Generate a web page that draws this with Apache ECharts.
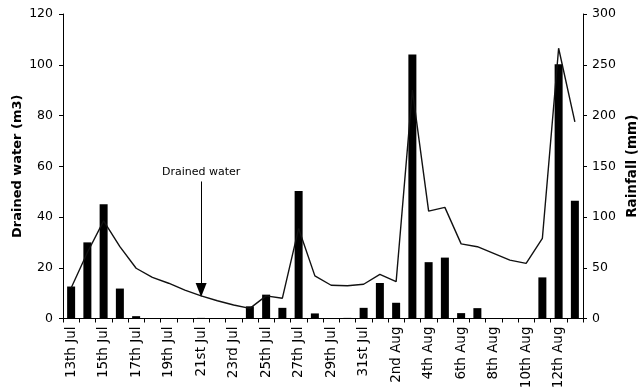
<!DOCTYPE html>
<html>
<head>
<meta charset="utf-8">
<script src="https://cdn.jsdelivr.net/npm/echarts@6/dist/echarts.min.js"></script>
<style>
  html, body { margin: 0; padding: 0; background: #fff; }
  #chart { width: 639px; height: 388px; }
</style>
</head>
<body>
<div id="chart"></div>
<script>
var days = ['13th Jul', '14th Jul', '15th Jul', '16th Jul', '17th Jul', '18th Jul', '19th Jul', '20th Jul',
  '21st Jul', '22nd Jul', '23rd Jul', '24th Jul', '25th Jul', '26th Jul', '27th Jul', '28th Jul',
  '29th Jul', '30th Jul', '31st Jul', '1st Aug', '2nd Aug', '3rd Aug', '4th Aug', '5th Aug',
  '6th Aug', '7th Aug', '8th Aug', '9th Aug', '10th Aug', '11th Aug', '12th Aug', '13th Aug'];

// rainfall (mm), right axis
var rainfall = [31.5, 75, 112.5, 29.5, 2.3, 0, 0, 0.4,
  0.6, 0, 0, 12, 23.5, 10.5, 125.5, 5,
  0, 0.6, 10.5, 35, 15.5, 260, 55.5, 60,
  5.3, 10.2, 0, 0.5, 0.5, 40.5, 250.5, 116];

// drained water (m3), left axis
var drained = [12, 26, 38.5, 28.3, 19.8, 16.2, 13.9, 11.2,
  8.9, 7.0, 5.3, 4.0, 8.9, 8.0, 35.5, 16.8,
  13.1, 12.9, 13.5, 17.4, 14.5, 90, 42.3, 43.8,
  29.4, 28.3, 25.7, 23, 21.7, 31.6, 106.5, 77.5];

var leftTicks = [0, 120, 20];
var rightTicks = [0, 300, 50];

// arrow pointing at the line: day, top value, tip value
var arrowDay = '21st Jul';
var arrowFrom = 54;
var arrowTo = 11.2;

var font = 'DejaVu Sans';
var chart = echarts.init(document.getElementById('chart'));

chart.setOption({
  animation: false,
  backgroundColor: '#fff',
  grid: { left: 63, right: 56, top: 14, bottom: 69.5, outerBoundsMode: 'none' },
  xAxis: {
    type: 'category',
    data: days,
    boundaryGap: true,
    axisLine: { lineStyle: { color: '#000', width: 1 } },
    axisTick: { show: true, interval: 0, length: 4, lineStyle: { color: '#000' } },
    axisLabel: { interval: 1, rotate: 90, margin: 8, color: '#000', fontFamily: font, fontSize: 13.5 }
  },
  yAxis: [{
    type: 'value',
    min: leftTicks[0], max: leftTicks[1], interval: leftTicks[2],
    name: 'Drained water (m3)',
    nameLocation: 'middle',
    nameRotate: 90,
    nameGap: 39,
    nameMoveOverlap: false,
    nameTextStyle: { color: '#000', fontFamily: font, fontSize: 13, fontWeight: 'bold' },
    splitLine: { show: false },
    axisLine: { show: true, lineStyle: { color: '#000', width: 1 } },
    axisTick: { show: true, length: 4, lineStyle: { color: '#000' } },
    axisLabel: { margin: 10, color: '#000', fontFamily: font, fontSize: 12.5 }
  }, {
    type: 'value',
    position: 'right',
    min: rightTicks[0], max: rightTicks[1], interval: rightTicks[2],
    name: 'Rainfall (mm)',
    nameLocation: 'middle',
    nameRotate: 90,
    nameGap: 42,
    nameMoveOverlap: false,
    nameTextStyle: { color: '#000', fontFamily: font, fontSize: 13.5, fontWeight: 'bold' },
    splitLine: { show: false },
    axisLine: { show: true, lineStyle: { color: '#000', width: 1 } },
    axisTick: { show: true, length: 4, lineStyle: { color: '#000' } },
    axisLabel: { margin: 9, color: '#000', fontFamily: font, fontSize: 12.5 }
  }],
  series: [{
    name: 'Rainfall',
    type: 'bar',
    yAxisIndex: 1,
    data: rainfall,
    barWidth: 8,
    itemStyle: { color: '#000' }
  }, {
    name: 'Drained water',
    type: 'line',
    yAxisIndex: 0,
    data: drained,
    showSymbol: false,
    symbol: 'none',
    lineStyle: { color: '#111', width: 1.4 },
    markLine: {
      silent: true,
      animation: false,
      lineStyle: { type: 'solid', color: '#000', width: 1 },
      label: {
        show: true, position: 'start', distance: 4, formatter: 'Drained water',
        color: '#000', fontFamily: font, fontSize: 11
      },
      data: [[
        { coord: [arrowDay, arrowFrom], symbol: 'none' },
        { coord: [arrowDay, arrowTo], symbol: 'triangle', symbolSize: [11, 14] }
      ]]
    }
  }]
});
</script>
</body>
</html>
